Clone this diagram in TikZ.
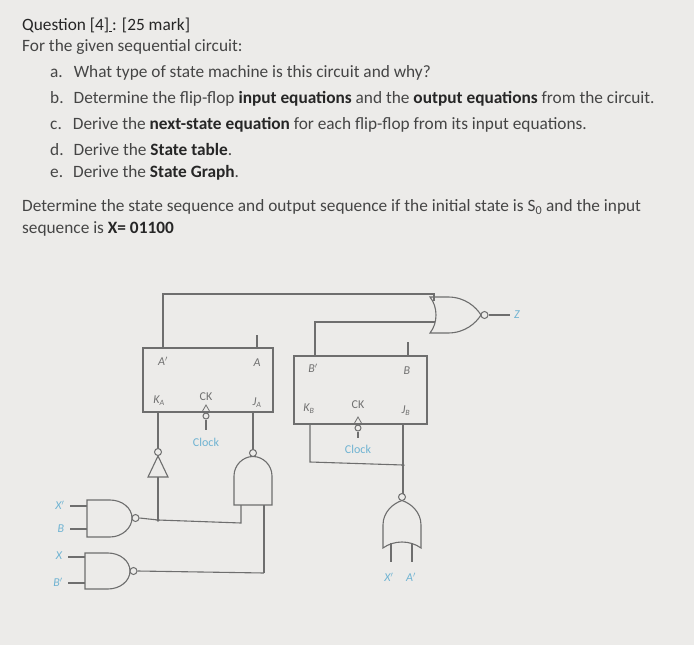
\documentclass[tikz,border=0pt]{standalone}
\usepackage{fontspec}
\setmainfont{Carlito}
\begin{document}
\begin{tikzpicture}[x=1pt,y=-1pt,
  wire/.style={draw=wc,line width=1.1pt},
  txt/.style={anchor=west,inner sep=0pt,text=tc,font=\fontsize{17.3}{19}\selectfont},
  lab/.style={inner sep=0pt,text=lc,font=\fontsize{12}{13}\selectfont\itshape},
  blab/.style={inner sep=0pt,text=bc,font=\fontsize{12}{13}\selectfont},
  ilab/.style={inner sep=0pt,text=bc,font=\fontsize{12}{13}\selectfont\itshape},
  bub/.style={circle,draw=wc,line width=1pt,fill=bg,inner sep=0pt,minimum size=7pt},
  jdot/.style={circle,fill=wc,inner sep=0pt,minimum size=3.5pt}]
\definecolor{bg}{HTML}{ECEBE9}
\definecolor{tc}{HTML}{454545}
\definecolor{dc}{HTML}{262626}
\definecolor{wc}{HTML}{6E6E6E}
\definecolor{lc}{HTML}{707070}
\definecolor{bc}{HTML}{6FB3D2}
\fill[bg] (0,0) rectangle (694,645);
\useasboundingbox (0,0) rectangle (694,645);
% text
\node[txt,text=dc] (q) at (22,25) {Question [4]\underline{\,}: [25 mark]};
\node[txt] (l2) at (22,47) {For the given sequential circuit:};
\node[txt] (ia) at (50,73) {a.\hspace{11pt}What type of state machine is this circuit and why?};
\node[txt] (ib) at (50,99) {b.\hspace{10pt}Determine the flip-flop \textcolor{dc}{\textbf{input equations}} and the \textcolor{dc}{\textbf{output equations}} from the circuit.};
\node[txt] (ic) at (50,125) {c.\hspace{11pt}Derive the \textcolor{dc}{\textbf{next-state equation}} for each flip-flop from its input equations.};
\node[txt] (id) at (50,149) {d.\hspace{10pt}Derive the \textcolor{dc}{\textbf{State table}}.};
\node[txt] (ie) at (50,173) {e.\hspace{10pt}Derive the \textcolor{dc}{\textbf{State Graph}}.};
\node[txt] (p1) at (22,207) {Determine the state sequence and output sequence if the initial state is S\textsubscript{0} and the input};
\node[txt] (p2) at (22,229) {sequence is \textcolor{dc}{\textbf{X= 01100}}};
% flip-flops
\draw[wire] (143,348) rectangle (273,412);
\draw[wire] (294,356) rectangle (427,424);
\node[lab] (Ap) at (163,361) {A$'$};
\node[lab] (Aq) at (257,363) {A};
\node[lab] (KA) at (159,401) {K\textsubscript{A}};
\node[lab,font=\fontsize{12}{13}\selectfont] (CKA) at (206,397) {CK};
\node[lab] (JA) at (257,403) {J\textsubscript{A}};
\node[lab] (Bp) at (313,368) {B$'$};
\node[lab] (Bq) at (407,371) {B};
\node[lab] (KB) at (309,409) {K\textsubscript{B}};
\node[lab,font=\fontsize{12}{13}\selectfont] (CKB) at (358,405) {CK};
\node[lab] (JB) at (406,411) {J\textsubscript{B}};
% clock inputs
\draw[wire,line width=0.8pt] (202,412)--(206,405)--(210,412);
\node[bub,minimum size=6pt] (cba) at (206,416) {};
\draw[wire] (cba.south)--(206,430);
\node[blab] (clkA) at (206,442) {Clock};
\draw[wire,line width=0.8pt] (354,424)--(358,417)--(362,424);
\node[bub,minimum size=6pt] (cbb) at (358,428) {};
\draw[wire] (cbb.south)--(358,438);
\node[blab] (clkB) at (358,449) {Clock};
% outputs stubs
\draw[wire] (257,335)--(257,348);
\draw[wire] (408,342)--(408,356);
% NOR output gate
\draw[wire,fill=bg] (430,297) .. controls (438,307) and (438,323) .. (430,333) -- (448,333) .. controls (465,333) and (476,323) .. (481,315) .. controls (476,307) and (465,297) .. (448,297) -- cycle;
\node[bub] (nb) at (484.5,315) {};
\draw[wire] (nb.east)--(510,315);
\node[ilab] (Z) at (517,315) {Z};
\draw[wire] (163,348)--(163,294)--(434,294)--(434,301);
\draw[wire] (315,356)--(315,322)--(435,322);
% K_A path
\draw[wire] (158,412)--(158,449);
\node[bub] (ib1) at (158,452) {};
\draw[wire,fill=bg] (148,477)--(168,477)--(158,456)--cycle;
\draw[wire] (158,477)--(158,520);
% J_A NAND
\draw[wire] (253,412)--(253,450);
\node[bub] (jb) at (253,453) {};
\draw[wire,fill=bg] (234,505) -- (234,476) .. controls (234,465) and (243,456.5) .. (253,456.5) .. controls (263,456.5) and (272,465) .. (272,476) -- (272,505) -- cycle;
\draw[wire] (241,505)--(241,523)--(158,520);
\draw[wire] (264,505)--(264,573);
% NAND1
\draw[wire,fill=bg] (87,500) -- (110,500) .. controls (122,500) and (132,508) .. (132,518) .. controls (132,528) and (122,537) .. (110,537) -- (87,537) -- cycle;
\node[bub] (n1) at (135.5,518) {};
\draw[wire] (n1.east)--(158,520);
\node[jdot] (j1) at (158,520) {};
\draw[wire] (70,506)--(87,506);
\draw[wire] (70,529)--(87,529);
\node[ilab] (x1) at (60,505) {X$'$};
\node[ilab] (b1) at (61,529) {B};
% NAND2
\draw[wire,fill=bg] (85,553) -- (108,553) .. controls (120,553) and (130,561) .. (130,571) .. controls (130,581) and (120,589) .. (108,589) -- (85,589) -- cycle;
\node[bub] (n2) at (133.5,571) {};
\draw[wire] (n2.east)--(264,573);
\draw[wire] (68,557)--(85,557);
\draw[wire] (68,583)--(85,583);
\node[ilab] (x2) at (59,556) {X};
\node[ilab] (b2) at (58,582) {B$'$};
% B side
\draw[wire] (310,424)--(310,462)--(403,465);
\node[jdot] (j2) at (403,465) {};
\draw[wire] (403,424)--(403,494);
\node[bub] (ob) at (402,497) {};
\draw[wire,fill=bg] (383,548) .. controls (394,540) and (410,540) .. (421,548) -- (421,525) .. controls (421,512) and (411,503.5) .. (402,500.5) .. controls (393,503.5) and (383,512) .. (383,525) -- cycle;
\draw[wire] (391,543)--(391,562);
\draw[wire] (412,543)--(412,562);
\node[ilab] (x3) at (389,577) {X$'$};
\node[ilab] (a3) at (411,577) {A$'$};
\end{tikzpicture}
\end{document}
